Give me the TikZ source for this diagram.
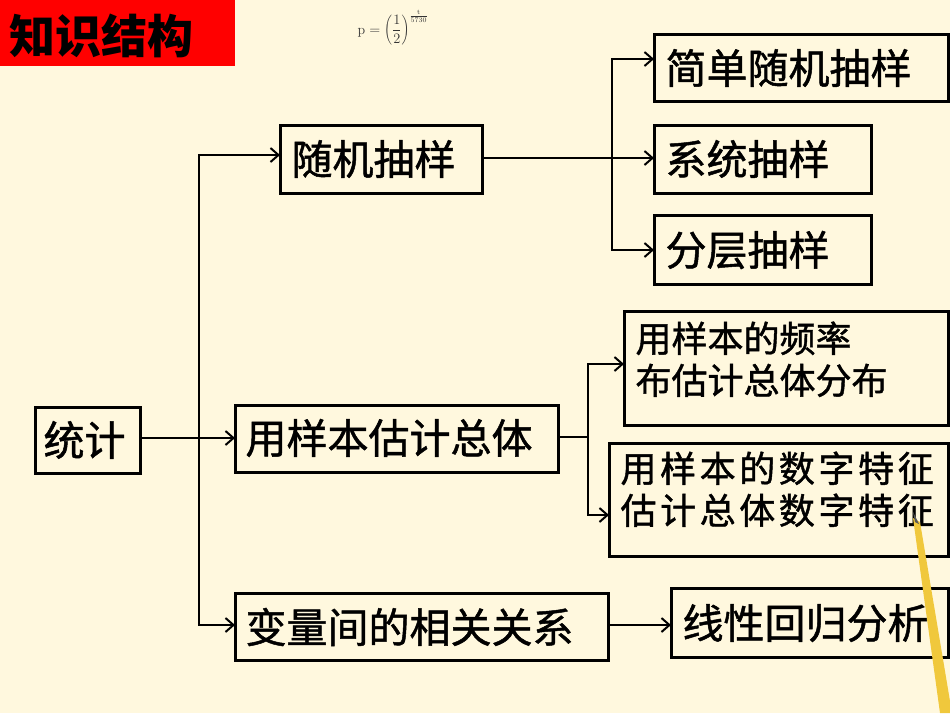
\documentclass[tikz,border=0pt]{standalone}
\usepackage{fontspec}
\newfontfamily\cjk{Noto Sans CJK SC}[FakeBold=1.2]
\newfontfamily\cjkt{Noto Sans CJK SC}
\usetikzlibrary{arrows.meta}
\definecolor{bg}{RGB}{255,248,222}
\definecolor{pencil}{RGB}{240,200,60}
\begin{document}
\begin{tikzpicture}[x=1pt,y=-1pt,
 box/.style={draw=black,line width=3pt,inner sep=0pt},
 lbl/.style={font=\cjk\fontsize{41}{44}\selectfont,anchor=west},
 lbl2/.style={font=\cjk\fontsize{36}{42}\selectfont,anchor=north west,align=left},
 con/.style={line width=2.6pt},
 arr/.style={con,-{Straight Barb[length=8pt,width=14pt,line width=2pt]}}]
\fill[bg] (0,0) rectangle (950,713);
\useasboundingbox (0,0) rectangle (950,713);
\fill[red] (0,0) rectangle (235,66);
\node[font=\cjkt\bfseries\fontsize{46}{48}\selectfont,anchor=west] (title) at (6,36) {知识结构};
\node[font=\fontsize{14}{15}\selectfont,text=black!80] (formula) at (393,28) {$\displaystyle\mathrm{p}=\left(\frac{1}{2}\right)^{\frac{\mathrm{t}}{5730}}$};
% boxes
\draw[box] (35,407) rectangle (140,473); \coordinate (tjR) at (140,438);
\node[lbl] (tj) at (40,440) {统计};
\draw[box] (280,125) rectangle (482,193);
\node[lbl] (sj) at (288,159) {随机抽样};
\draw[box] (235,405) rectangle (558,472);
\node[lbl] (yb) at (242,438) {用样本估计总体};
\draw[box] (235,593) rectangle (608,660);
\node[lbl] (bl) at (242,627) {变量间的相关关系};
\draw[box] (654,34) rectangle (948,101);
\node[lbl] (jd) at (662,68) {简单随机抽样};
\draw[box] (654,125) rectangle (871,193);
\node[lbl] (xt) at (662,159) {系统抽样};
\draw[box] (654,215) rectangle (871,284);
\node[lbl] (fc) at (662,250) {分层抽样};
\draw[box] (624,311) rectangle (948,425);
\node[lbl2] (pl) at (632,318) {用样本的频率\\布估计总体分布};
\draw[box] (609,443) rectangle (948,556);
\node[lbl2,font=\cjk\fontsize{36}{42}\selectfont\addfontfeature{LetterSpace=10}] (sz) at (617,448) {用样本的数字特征\\估计总体数字特征};
\draw[box] (671,588) rectangle (948,657);
\node[lbl] (xx) at (679,623) {线性回归分析};
% connectors
\coordinate (a1) at (235,438); \draw[arr] (tjR) -- (a1);
\coordinate (t1) at (199,155); \coordinate (t2) at (199,625);
\coordinate (a2) at (280,155); \coordinate (a3) at (235,625);
\draw[arr] (t1) -- (t2) -- (a3);
\draw[arr] (t2) -- (t1) -- (a2);
\coordinate (s0) at (482,158); \coordinate (s1) at (654,158);
\draw[arr] (s0) -- (s1);
\coordinate (v1) at (612,59); \coordinate (v2) at (612,250);
\coordinate (s2) at (654,59); \coordinate (s3) at (654,250);
\draw[arr] (v2) -- (v1) -- (s2);
\draw[arr] (v1) -- (v2) -- (s3);
\coordinate (y0) at (558,437); \coordinate (y1) at (588,437);
\draw[con] (y0) -- (y1);
\coordinate (w1) at (588,364); \coordinate (w2) at (588,515);
\coordinate (y2) at (624,364); \coordinate (y3) at (609,515);
\draw[arr] (w2) -- (w1) -- (y2);
\draw[arr] (w1) -- (w2) -- (y3);
\coordinate (b0) at (608,625); \coordinate (b1) at (671,625);
\draw[arr] (b0) -- (b1);
% pencil
\fill[pencil] (913,518) -- (920,522) -- (952,713) -- (940,713) -- cycle;
\fill[gray!70!black] (913,512) -- (915,522) -- (919,524) -- cycle;
\end{tikzpicture}
\end{document}
